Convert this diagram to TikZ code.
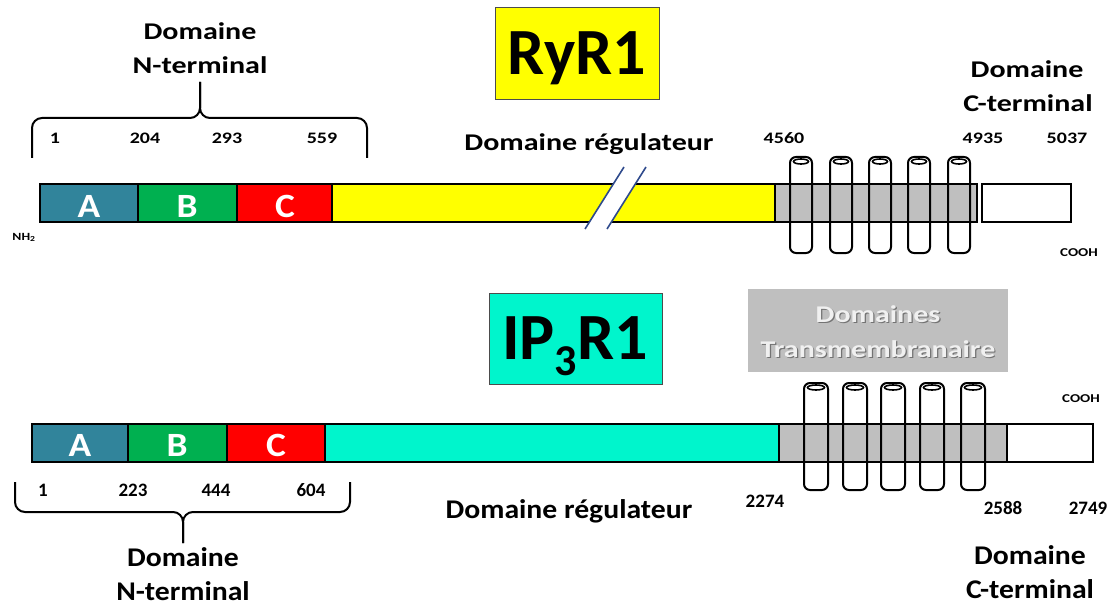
\documentclass[tikz,border=0pt]{standalone}
\usepackage{fontspec}
\setmainfont{Carlito}
\newfontfamily\topf{Carlito}[FakeStretch=1.25]
\newfontfamily\botf{Carlito}[FakeStretch=1.1]
\newfontfamily\titf{Carlito}
\definecolor{domA}{HTML}{31849B}
\definecolor{domB}{HTML}{00B050}
\definecolor{domC}{HTML}{FF0000}
\definecolor{regY}{HTML}{FFFF00}
\definecolor{regC}{HTML}{00F5CC}
\definecolor{tmgray}{HTML}{BFBFBF}
\definecolor{breakblue}{HTML}{2E4A8C}
\newcommand\fsz[1]{\fontsize{#1}{#1}\selectfont}

\begin{document}
\begin{tikzpicture}[x=1pt,y=-1pt,
  seg/.style={draw=black, line width=2.2pt},
  cyl/.style={draw=black, line width=2pt, rounded corners=6pt},
  bracepath/.style={draw=black, line width=2pt, rounded corners=10pt},
  lbl/.style={anchor=base, inner sep=0pt, text=black},
  toplbl/.style={lbl, font=\topf\bfseries\fsz{24}},
  botlbl/.style={lbl, font=\botf\bfseries\fsz{27}},
  topnum/.style={lbl, font=\topf\bfseries\fsz{16}},
  botnum/.style={lbl, font=\titf\bfseries\fsz{19}},
  small/.style={lbl, font=\topf\bfseries\fsz{12}},
  letter/.style={inner sep=0pt, text=white, font=\botf\bfseries\fsz{34}},
  titlebox/.style={draw=black!70, line width=0.8pt},
  titletext/.style={lbl, font=\titf\bfseries\fsz{66}}]

\useasboundingbox (0,0) rectangle (1111,607);

% ---------------- RyR1 ----------------
\filldraw[titlebox, fill=regY] (495,7) rectangle (659,99);
\node[titletext] (ryrT) at (577,75) {RyR1};

% N-terminal brace and label
\draw[bracepath] (32,158) -- (32,118) -- (200,118) -- (200,82);
\draw[bracepath] (367,158) -- (367,118) -- (200,118) -- (200,82);
\node[toplbl] (rNd) at (200,40) {Domaine};
\node[toplbl] (rNt) at (200,74) {N-terminal};
\node[topnum] (r1) at (55,143) {1};
\node[topnum] (r204) at (145,143) {204};
\node[topnum] (r293) at (227,143) {293};
\node[topnum] (r559) at (322,143) {559};

% protein bar
\filldraw[seg, fill=domA] (40,184) rectangle (138,222);
\filldraw[seg, fill=domB] (138,184) rectangle (237,222);
\filldraw[seg, fill=domC] (237,184) rectangle (332,222);
\filldraw[seg, fill=regY] (332,184) rectangle (775,222);
\filldraw[seg, fill=tmgray] (775,184) rectangle (977,222);
\filldraw[seg, fill=white] (982,184) rectangle (1071,222);
\node[letter] (rA) at (89,206) {A};
\node[letter] (rB) at (187,206) {B};
\node[letter] (rC) at (285,206) {C};

% break in the regulatory domain
\begin{scope}
  \clip (560,182.5) rectangle (680,223.5);
  \fill[white] (585,229) -- (624,167) -- (646,167) -- (607,229) -- cycle;
\end{scope}
\draw[breakblue, line width=1.6pt] (585,229) -- (624,167);
\draw[breakblue, line width=1.6pt] (607,229) -- (646,167);

% transmembrane helices
\foreach \cx in {801,841,880,919,959}{
  \draw[cyl] (\cx-11,157) rectangle (\cx+11,253);
  \draw[line width=1.6pt] (\cx,161.5) ellipse (7.5 and 2.5);
}

\node[toplbl] (rReg) at (589,150) {Domaine régulateur};
\node[topnum] (r4560) at (784,143) {4560};
\node[topnum] (r4935) at (983,143) {4935};
\node[topnum] (r5037) at (1067,143) {5037};
\node[toplbl] (rCd) at (1027,78) {Domaine};
\node[toplbl] (rCt) at (1028,112) {C-terminal};
\node[small] (rCOOH) at (1079,256) {COOH};
\node[lbl, font=\topf\bfseries\fsz{11}] (rNH) at (24,240) {NH\textsubscript{2}};

% ---------------- IP3R1 ----------------
\filldraw[titlebox, fill=regC] (489,293) rectangle (662,384);
\node[titletext] (ipT) at (575,359) {IP\raisebox{-16pt}{\fsz{44}3}R1};

\fill[tmgray] (748,289) rectangle (1008,372);
\node[lbl, font=\topf\bfseries\fsz{24}, text=black!55] (tmS1) at (879.2,323.2) {Domaines};
\node[lbl, font=\topf\bfseries\fsz{24}, text=black!55] (tmS2) at (879.2,358.2) {Transmembranaire};
\node[lbl, font=\topf\bfseries\fsz{24}, text=black!6] (tm1) at (878,322) {Domaines};
\node[lbl, font=\topf\bfseries\fsz{24}, text=black!6] (tm2) at (878,357) {Transmembranaire};

% protein bar
\filldraw[seg, fill=domA] (32,424) rectangle (128,462);
\filldraw[seg, fill=domB] (128,424) rectangle (227,462);
\filldraw[seg, fill=domC] (227,424) rectangle (325,462);
\filldraw[seg, fill=regC] (325,424) rectangle (779,462);
\filldraw[seg, fill=tmgray] (779,424) rectangle (1007,462);
\filldraw[seg, fill=white] (1007,424) rectangle (1093,462);
\node[letter] (iA) at (80,445) {A};
\node[letter] (iB) at (177,445) {B};
\node[letter] (iC) at (276,445) {C};

\foreach \cx in {816,855,893,932,973}{
  \draw[cyl] (\cx-12,383) rectangle (\cx+12,490);
  \draw[line width=1.6pt] (\cx,387.5) ellipse (8.5 and 2.5);
}

% N-terminal brace and label
\draw[bracepath] (15,482) -- (15,512) -- (183,512) -- (183,543);
\draw[bracepath] (350,482) -- (350,512) -- (183,512) -- (183,543);
\node[botnum] (i1) at (43,496) {1};
\node[botnum] (i223) at (133,496) {223};
\node[botnum] (i444) at (216,496) {444};
\node[botnum] (i604) at (311,496) {604};
\node[botlbl] (iNd) at (183,566) {Domaine};
\node[botlbl] (iNt) at (183,600) {N-terminal};

\node[botlbl] (iReg) at (569,518) {Domaine régulateur};
\node[botnum] (i2274) at (765,507) {2274};
\node[botnum] (i2588) at (1003,514) {2588};
\node[botnum] (i2749) at (1088,514) {2749};
\node[small] (iCOOH) at (1081,402) {COOH};
\node[botlbl] (iCd) at (1030,564) {Domaine};
\node[botlbl] (iCt) at (1030,598) {C-terminal};
\end{tikzpicture}
\end{document}
